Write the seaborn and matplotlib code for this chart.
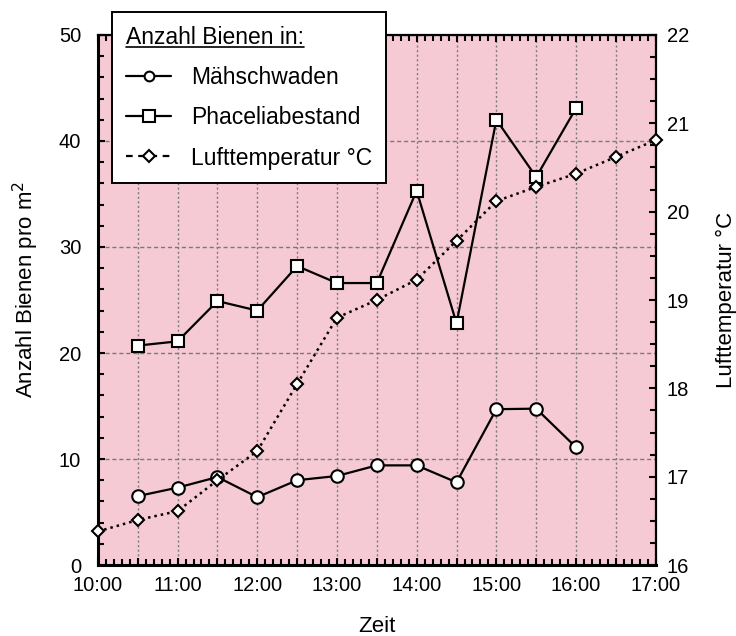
import matplotlib
matplotlib.use('Agg')
import pandas as pd
import matplotlib.pyplot as plt
import seaborn as sns
from matplotlib.ticker import MultipleLocator, FuncFormatter
from matplotlib.lines import Line2D

# Zeit in Stunden (10.5 = 10:30)
zeit_bienen = [10.5, 11.0, 11.5, 12.0, 12.5, 13.0, 13.5, 14.0, 14.5, 15.0, 15.5, 16.0]
maehschwaden = [6.5, 7.3, 8.3, 6.4, 8.0, 8.4, 9.4, 9.4, 7.8, 14.7, 14.75, 11.1]
phaceliabestand = [20.7, 21.1, 24.9, 24.0, 28.2, 26.6, 26.6, 35.3, 22.8, 42.0, 36.6, 43.1]

zeit_temp = [10.0, 10.5, 11.0, 11.5, 12.0, 12.5, 13.0, 13.5, 14.0, 14.5, 15.0, 15.5, 16.0, 16.5, 17.0]
lufttemperatur = [16.38, 16.51, 16.61, 16.96, 17.29, 18.05, 18.8, 19.0, 19.23, 19.67,
                  20.12, 20.28, 20.43, 20.62, 20.81]

df_b = pd.DataFrame({'Zeit': zeit_bienen, 'Mähschwaden': maehschwaden,
                     'Phaceliabestand': phaceliabestand})
df_t = pd.DataFrame({'Zeit': zeit_temp, 'Lufttemperatur': lufttemperatur})

sns.set_style('ticks')
plt.rcParams['font.family'] = ['Liberation Sans', 'DejaVu Sans']
plt.rcParams.update({'text.color': 'black', 'axes.labelcolor': 'black',
                     'xtick.color': 'black', 'ytick.color': 'black'})

fig = plt.figure(figsize=(7.36, 6.36), dpi=100)
ax = fig.add_axes([0.133, 0.1116, 0.758, 0.8334])
ax.set_facecolor('#f6cad5')

mk = dict(markerfacecolor='white', markeredgecolor='black', markeredgewidth=1.5)
sns.lineplot(data=df_b, x='Zeit', y='Mähschwaden', ax=ax, color='black', lw=1.6,
             marker='o', markersize=9, zorder=3, **mk)
sns.lineplot(data=df_b, x='Zeit', y='Phaceliabestand', ax=ax, color='black', lw=1.6,
             marker='s', markersize=9, zorder=3, **mk)

ax.set_xlim(10, 17)
ax.set_ylim(0, 50)
ax.xaxis.set_major_locator(MultipleLocator(0.5))
ax.xaxis.set_minor_locator(MultipleLocator(0.1))
ax.xaxis.set_major_formatter(FuncFormatter(lambda v, p: f"{int(round(v))}:00" if abs(v - round(v)) < 1e-6 else ''))
ax.yaxis.set_major_locator(MultipleLocator(10))
ax.yaxis.set_minor_locator(MultipleLocator(2))
ax.tick_params(which='both', direction='in', top=True, right=False, labelsize=14.5, colors='black')
ax.tick_params(axis='y', which='major', length=5, width=1.5, pad=12)
ax.tick_params(axis='y', which='minor', length=4, width=1.5)
ax.tick_params(axis='x', which='major', length=5, width=1.5, pad=8)
ax.tick_params(axis='x', which='minor', length=4, width=1.5)

ax.grid(axis='x', which='major', color='#7a7a7a', ls=(0, (1.5, 1.8)), lw=1.0)
ax.grid(axis='y', which='major', color='#7a7a7a', ls=(0, (3, 2)), lw=1.0)
ax.set_xlabel('Zeit', fontsize=16)
ax.set_ylabel('Anzahl Bienen pro m$^2$', fontsize=16)
ax.xaxis.set_label_coords(0.5, -0.096)
ax.yaxis.set_label_coords(-0.102, 0.52)
for s in ['left', 'bottom']:
    ax.spines[s].set_linewidth(2.2)
    ax.spines[s].set_color('black')
for s in ['top', 'right']:
    ax.spines[s].set_linewidth(1.6)
    ax.spines[s].set_color('black')

ax2 = ax.twinx()
sns.lineplot(data=df_t, x='Zeit', y='Lufttemperatur', ax=ax2, color='black', lw=1.8,
             ls=(0, (1, 1.6)), marker='D', markersize=6.5, clip_on=False, **mk)
ax2.set_ylim(16, 22)
ax2.yaxis.set_major_locator(MultipleLocator(1))
ax2.yaxis.set_minor_locator(MultipleLocator(0.25))
ax2.tick_params(which='both', direction='in', labelsize=14.5, width=1.5, colors='black')
ax2.tick_params(which='major', length=5, pad=8)
ax2.tick_params(which='minor', length=4)
ax2.set_ylabel('Lufttemperatur °C', fontsize=16)
ax2.yaxis.set_label_coords(1.108, 0.5)
for s in ax2.spines.values():
    s.set_visible(False)

handles = [
    Line2D([], [], color='black', lw=1.6, marker='o', markersize=7, **mk),
    Line2D([], [], color='black', lw=1.6, marker='s', markersize=8, **mk),
    Line2D([], [], color='black', lw=1.6, ls=(0, (3, 2.5)), marker='D', markersize=6, **mk),
]
labels = ['Mähschwaden', 'Phaceliabestand', 'Lufttemperatur °C']
leg = ax2.legend(handles, labels, loc='upper left', bbox_to_anchor=(0.025, 1.043),
                 borderaxespad=0, title='Anzahl Bienen in:', fontsize=16.5, title_fontsize=16.5,
                 frameon=True, fancybox=False, framealpha=1, edgecolor='black',
                 borderpad=0.6, labelspacing=0.75, handlelength=2.0, handletextpad=0.85,
                 alignment='left')
leg.get_frame().set_linewidth(1.4)
leg.set_zorder(10)

fig.canvas.draw()
bb = leg.get_title().get_window_extent().transformed(fig.transFigure.inverted())
fig.add_artist(Line2D([bb.x0, bb.x1], [bb.y0 + 0.003, bb.y0 + 0.003], color='black', lw=1.2,
                      transform=fig.transFigure, zorder=20))

fig.savefig('out.png', dpi=100)
